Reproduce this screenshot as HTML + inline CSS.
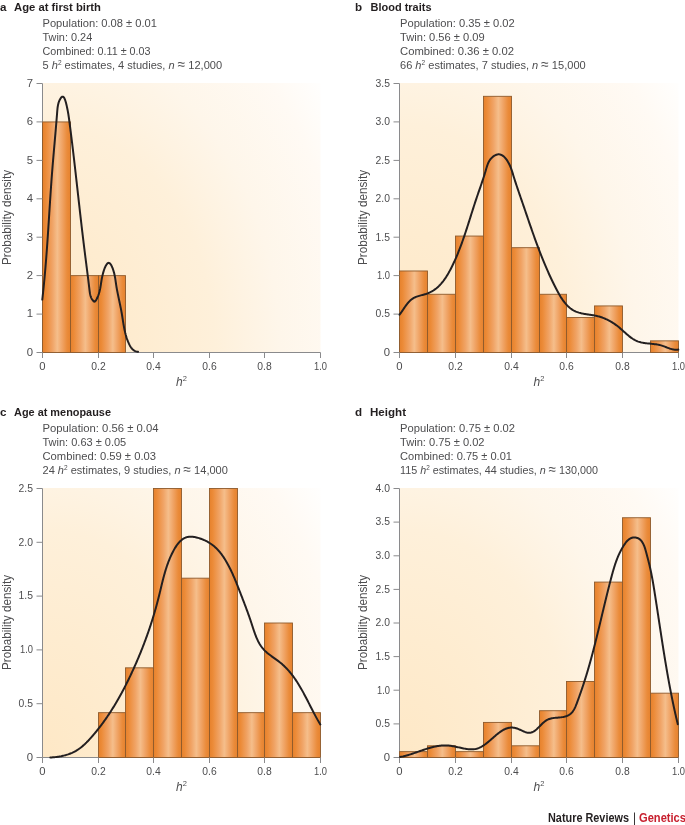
<!DOCTYPE html><html><head><meta charset="utf-8"><style>html,body{margin:0;padding:0;background:#fff;}svg{display:block;will-change:transform;}text{font-family:"Liberation Sans", sans-serif;}</style></head><body>
<svg width="685" height="825" viewBox="0 0 685 825">
<defs>
<linearGradient id="bar" x1="0" y1="0" x2="1" y2="0"><stop offset="0" stop-color="#e6812c"/><stop offset="0.12" stop-color="#ec8b38"/><stop offset="0.35" stop-color="#f0a365"/><stop offset="0.53" stop-color="#f5be8b"/><stop offset="0.70" stop-color="#f0a466"/><stop offset="0.88" stop-color="#ea8b3a"/><stop offset="1" stop-color="#e6822e"/></linearGradient>
<radialGradient id="bg" cx="0" cy="1" r="1" gradientUnits="objectBoundingBox" gradientTransform="translate(0,1) scale(1.265,1.725) translate(0,-1)"><stop offset="0.000" stop-color="#fee8c6"/><stop offset="0.260" stop-color="#feecd0"/><stop offset="0.490" stop-color="#fef0da"/><stop offset="0.580" stop-color="#fef3e2"/><stop offset="0.675" stop-color="#fef6ea"/><stop offset="0.870" stop-color="#fffaf4"/><stop offset="1.000" stop-color="#ffffff"/></radialGradient>
</defs>
<rect x="43.00" y="83.00" width="277.50" height="269.50" fill="url(#bg)"/>
<path d="M42.5,83.5 V352.5 H320.5" fill="none" stroke="#8a8a8c" stroke-width="1"/>
<rect x="42.50" y="121.93" width="28.00" height="230.57" fill="url(#bar)" stroke="#8e5a2c" stroke-width="0.9"/>
<rect x="70.50" y="275.64" width="28.00" height="76.86" fill="url(#bar)" stroke="#8e5a2c" stroke-width="0.9"/>
<rect x="98.50" y="275.64" width="27.00" height="76.86" fill="url(#bar)" stroke="#8e5a2c" stroke-width="0.9"/>
<path d="M36.5,352.5 H42.5" stroke="#8a8a8c" stroke-width="1"/>
<text x="33.0" y="355.8" font-size="11.3" fill="#4d4d4f" text-anchor="end">0</text>
<path d="M36.5,314.1 H42.5" stroke="#8a8a8c" stroke-width="1"/>
<text x="33.0" y="317.4" font-size="11.3" fill="#4d4d4f" text-anchor="end">1</text>
<path d="M36.5,275.6 H42.5" stroke="#8a8a8c" stroke-width="1"/>
<text x="33.0" y="278.9" font-size="11.3" fill="#4d4d4f" text-anchor="end">2</text>
<path d="M36.5,237.2 H42.5" stroke="#8a8a8c" stroke-width="1"/>
<text x="33.0" y="240.5" font-size="11.3" fill="#4d4d4f" text-anchor="end">3</text>
<path d="M36.5,198.8 H42.5" stroke="#8a8a8c" stroke-width="1"/>
<text x="33.0" y="202.1" font-size="11.3" fill="#4d4d4f" text-anchor="end">4</text>
<path d="M36.5,160.4 H42.5" stroke="#8a8a8c" stroke-width="1"/>
<text x="33.0" y="163.7" font-size="11.3" fill="#4d4d4f" text-anchor="end">5</text>
<path d="M36.5,121.9 H42.5" stroke="#8a8a8c" stroke-width="1"/>
<text x="33.0" y="125.2" font-size="11.3" fill="#4d4d4f" text-anchor="end">6</text>
<path d="M36.5,83.5 H42.5" stroke="#8a8a8c" stroke-width="1"/>
<text x="33.0" y="86.8" font-size="11.3" fill="#4d4d4f" text-anchor="end">7</text>
<path d="M42.5,352.5 V358.0" stroke="#8a8a8c" stroke-width="1"/>
<text x="42.5" y="370.0" font-size="11.3" fill="#4d4d4f" text-anchor="middle">0</text>
<path d="M98.5,352.5 V358.0" stroke="#8a8a8c" stroke-width="1"/>
<text x="98.5" y="370.0" font-size="11.3" fill="#4d4d4f" text-anchor="middle" textLength="14.4" lengthAdjust="spacingAndGlyphs">0.2</text>
<path d="M153.5,352.5 V358.0" stroke="#8a8a8c" stroke-width="1"/>
<text x="153.5" y="370.0" font-size="11.3" fill="#4d4d4f" text-anchor="middle" textLength="14.4" lengthAdjust="spacingAndGlyphs">0.4</text>
<path d="M209.5,352.5 V358.0" stroke="#8a8a8c" stroke-width="1"/>
<text x="209.5" y="370.0" font-size="11.3" fill="#4d4d4f" text-anchor="middle" textLength="14.4" lengthAdjust="spacingAndGlyphs">0.6</text>
<path d="M264.5,352.5 V358.0" stroke="#8a8a8c" stroke-width="1"/>
<text x="264.5" y="370.0" font-size="11.3" fill="#4d4d4f" text-anchor="middle" textLength="14.4" lengthAdjust="spacingAndGlyphs">0.8</text>
<path d="M320.5,352.5 V358.0" stroke="#8a8a8c" stroke-width="1"/>
<text x="320.5" y="370.0" font-size="11.3" fill="#4d4d4f" text-anchor="middle" textLength="13.0" lengthAdjust="spacingAndGlyphs">1.0</text>
<path d="M42.30,299.60 L42.40,298.67 L42.51,297.75 L42.61,296.82 L42.71,295.89 L42.81,294.97 L42.91,294.04 L43.01,293.11 L43.11,292.19 L43.20,291.26 L43.30,290.34 L43.40,289.41 L43.49,288.49 L43.59,287.56 L43.68,286.64 L43.77,285.71 L43.86,284.79 L43.95,283.86 L44.04,282.94 L44.13,282.02 L44.22,281.09 L44.31,280.17 L44.40,279.24 L44.48,278.32 L44.57,277.40 L44.65,276.47 L44.74,275.55 L44.82,274.62 L44.90,273.70 L44.99,272.78 L45.07,271.85 L45.15,270.93 L45.23,270.01 L45.31,269.08 L45.39,268.16 L45.47,267.24 L45.54,266.31 L45.62,265.39 L45.70,264.46 L45.77,263.54 L45.85,262.62 L45.92,261.69 L46.00,260.77 L46.07,259.84 L46.14,258.92 L46.22,257.99 L46.29,257.07 L46.36,256.15 L46.43,255.22 L46.50,254.30 L46.57,253.37 L46.64,252.44 L46.71,251.52 L46.78,250.59 L46.85,249.67 L46.91,248.74 L46.98,247.81 L47.05,246.89 L47.11,245.96 L47.18,245.03 L47.25,244.11 L47.31,243.18 L47.38,242.25 L47.44,241.33 L47.50,240.40 L47.57,239.47 L47.63,238.54 L47.69,237.61 L47.76,236.69 L47.82,235.76 L47.88,234.83 L47.94,233.90 L48.01,232.97 L48.07,232.04 L48.13,231.11 L48.19,230.19 L48.25,229.26 L48.31,228.33 L48.37,227.40 L48.43,226.47 L48.49,225.54 L48.55,224.61 L48.61,223.68 L48.67,222.75 L48.73,221.82 L48.79,220.89 L48.85,219.96 L48.91,219.03 L48.97,218.10 L49.03,217.18 L49.09,216.25 L49.15,215.32 L49.21,214.39 L49.27,213.46 L49.32,212.53 L49.38,211.60 L49.44,210.67 L49.50,209.74 L49.56,208.81 L49.62,207.88 L49.68,206.95 L49.74,206.02 L49.80,205.09 L49.86,204.16 L49.92,203.23 L49.98,202.31 L50.04,201.38 L50.10,200.45 L50.16,199.52 L50.23,198.59 L50.29,197.66 L50.35,196.73 L50.41,195.81 L50.47,194.88 L50.53,193.95 L50.60,193.02 L50.66,192.09 L50.72,191.17 L50.79,190.24 L50.85,189.31 L50.91,188.38 L50.98,187.46 L51.04,186.53 L51.11,185.60 L51.18,184.68 L51.24,183.75 L51.31,182.83 L51.37,181.90 L51.44,180.97 L51.51,180.05 L51.58,179.12 L51.65,178.20 L51.72,177.27 L51.79,176.35 L51.86,175.42 L51.93,174.50 L52.00,173.58 L52.07,172.65 L52.14,171.73 L52.21,170.81 L52.29,169.88 L52.36,168.96 L52.44,168.04 L52.51,167.12 L52.59,166.19 L52.66,165.27 L52.74,164.35 L52.82,163.43 L52.89,162.51 L52.97,161.58 L53.05,160.66 L53.12,159.74 L53.20,158.82 L53.28,157.90 L53.36,156.97 L53.44,156.05 L53.52,155.13 L53.60,154.21 L53.68,153.29 L53.76,152.37 L53.84,151.44 L53.92,150.52 L54.00,149.60 L54.08,148.68 L54.16,147.75 L54.24,146.83 L54.32,145.91 L54.40,144.98 L54.49,144.06 L54.57,143.13 L54.65,142.21 L54.73,141.29 L54.81,140.36 L54.89,139.44 L54.97,138.51 L55.05,137.58 L55.13,136.66 L55.21,135.73 L55.30,134.80 L55.38,133.87 L55.46,132.95 L55.54,132.02 L55.62,131.09 L55.70,130.16 L55.78,129.23 L55.86,128.30 L55.93,127.37 L56.01,126.43 L56.09,125.50 L56.17,124.57 L56.25,123.63 L56.33,122.70 L56.40,121.76 L56.48,120.83 L56.56,119.89 L56.63,118.95 L56.71,118.02 L56.78,117.08 L56.86,116.14 L56.93,115.20 L57.01,114.26 L57.08,113.32 L57.15,112.37 L57.23,111.43 L57.30,110.49 L57.39,109.55 L57.48,108.61 L57.59,107.68 L57.72,106.75 L57.87,105.83 L58.04,104.92 L58.24,104.03 L58.47,103.14 L58.74,102.26 L59.04,101.41 L59.39,100.56 L59.79,99.73 L60.23,98.93 L60.70,98.18 L61.21,97.53 L61.71,97.03 L62.22,96.71 L62.70,96.63 L63.15,96.76 L63.59,97.09 L64.00,97.61 L64.39,98.27 L64.76,99.06 L65.11,99.97 L65.44,100.96 L65.76,102.01 L66.05,103.09 L66.33,104.20 L66.59,105.30 L66.83,106.37 L67.06,107.42 L67.28,108.44 L67.48,109.45 L67.67,110.43 L67.85,111.39 L68.02,112.33 L68.18,113.27 L68.34,114.18 L68.48,115.09 L68.62,115.98 L68.75,116.87 L68.88,117.75 L69.00,118.63 L69.12,119.50 L69.23,120.37 L69.35,121.25 L69.47,122.12 L69.58,123.00 L69.70,123.88 L69.81,124.77 L69.93,125.66 L70.04,126.55 L70.16,127.44 L70.27,128.34 L70.39,129.24 L70.50,130.14 L70.62,131.04 L70.73,131.95 L70.85,132.86 L70.96,133.77 L71.07,134.68 L71.19,135.60 L71.30,136.51 L71.42,137.43 L71.53,138.35 L71.64,139.27 L71.76,140.20 L71.87,141.12 L71.98,142.04 L72.10,142.97 L72.21,143.90 L72.32,144.83 L72.43,145.75 L72.54,146.68 L72.66,147.61 L72.77,148.55 L72.88,149.48 L72.99,150.41 L73.10,151.34 L73.21,152.27 L73.32,153.20 L73.43,154.13 L73.54,155.07 L73.65,156.00 L73.76,156.93 L73.87,157.86 L73.98,158.79 L74.08,159.72 L74.19,160.65 L74.30,161.58 L74.41,162.51 L74.51,163.44 L74.62,164.37 L74.73,165.29 L74.83,166.22 L74.94,167.15 L75.05,168.08 L75.15,169.01 L75.26,169.94 L75.37,170.86 L75.47,171.79 L75.58,172.72 L75.68,173.64 L75.79,174.57 L75.89,175.50 L76.00,176.42 L76.10,177.35 L76.21,178.28 L76.31,179.20 L76.41,180.13 L76.52,181.05 L76.62,181.98 L76.73,182.90 L76.83,183.83 L76.93,184.75 L77.04,185.68 L77.14,186.60 L77.25,187.53 L77.35,188.45 L77.45,189.38 L77.56,190.30 L77.66,191.22 L77.76,192.15 L77.87,193.07 L77.97,193.99 L78.07,194.92 L78.18,195.84 L78.28,196.76 L78.38,197.69 L78.49,198.61 L78.59,199.53 L78.69,200.45 L78.80,201.38 L78.90,202.30 L79.01,203.22 L79.11,204.14 L79.21,205.06 L79.32,205.99 L79.42,206.91 L79.53,207.83 L79.63,208.75 L79.73,209.67 L79.84,210.59 L79.94,211.52 L80.05,212.44 L80.15,213.36 L80.26,214.28 L80.36,215.20 L80.47,216.12 L80.57,217.04 L80.68,217.96 L80.78,218.88 L80.89,219.80 L80.99,220.72 L81.10,221.64 L81.21,222.56 L81.31,223.48 L81.42,224.40 L81.53,225.33 L81.63,226.25 L81.74,227.17 L81.85,228.09 L81.96,229.01 L82.06,229.93 L82.17,230.85 L82.28,231.77 L82.39,232.69 L82.50,233.61 L82.61,234.53 L82.72,235.45 L82.83,236.37 L82.94,237.29 L83.05,238.21 L83.16,239.13 L83.27,240.04 L83.38,240.96 L83.49,241.88 L83.60,242.80 L83.72,243.72 L83.83,244.64 L83.94,245.56 L84.05,246.48 L84.17,247.40 L84.28,248.32 L84.40,249.24 L84.51,250.16 L84.63,251.08 L84.74,252.00 L84.86,252.92 L84.97,253.84 L85.09,254.76 L85.21,255.68 L85.32,256.61 L85.44,257.53 L85.56,258.45 L85.68,259.37 L85.79,260.29 L85.91,261.21 L86.03,262.13 L86.15,263.06 L86.27,263.98 L86.38,264.90 L86.50,265.82 L86.62,266.75 L86.74,267.67 L86.86,268.60 L86.97,269.52 L87.09,270.45 L87.21,271.37 L87.33,272.30 L87.44,273.23 L87.56,274.16 L87.68,275.08 L87.79,276.01 L87.91,276.94 L88.03,277.87 L88.14,278.80 L88.26,279.73 L88.37,280.67 L88.49,281.60 L88.60,282.53 L88.71,283.47 L88.83,284.40 L88.94,285.34 L89.05,286.28 L89.16,287.21 L89.28,288.15 L89.39,289.09 L89.50,290.03 L89.61,290.97 L89.73,291.91 L89.87,292.84 L90.03,293.76 L90.22,294.67 L90.44,295.57 L90.71,296.45 L91.03,297.31 L91.40,298.14 L91.83,298.95 L92.33,299.73 L92.91,300.48 L93.56,301.18 L94.24,301.64 L94.90,301.59 L95.49,301.02 L96.02,300.18 L96.52,299.30 L96.97,298.43 L97.40,297.57 L97.78,296.70 L98.14,295.85 L98.46,294.99 L98.76,294.14 L99.03,293.28 L99.28,292.43 L99.51,291.58 L99.72,290.72 L99.91,289.87 L100.09,289.01 L100.26,288.15 L100.41,287.28 L100.56,286.42 L100.70,285.54 L100.84,284.66 L100.98,283.78 L101.11,282.88 L101.25,281.98 L101.40,281.07 L101.55,280.15 L101.71,279.22 L101.88,278.28 L102.07,277.33 L102.27,276.36 L102.49,275.39 L102.73,274.40 L102.99,273.39 L103.28,272.37 L103.59,271.34 L103.93,270.29 L104.29,269.25 L104.68,268.23 L105.09,267.26 L105.51,266.34 L105.96,265.49 L106.41,264.73 L106.87,264.07 L107.35,263.54 L107.83,263.15 L108.31,262.92 L108.79,262.86 L109.28,262.99 L109.76,263.29 L110.23,263.76 L110.69,264.36 L111.15,265.08 L111.58,265.90 L112.00,266.79 L112.40,267.73 L112.77,268.70 L113.12,269.69 L113.44,270.67 L113.73,271.64 L113.99,272.60 L114.24,273.55 L114.46,274.49 L114.66,275.43 L114.85,276.36 L115.02,277.28 L115.18,278.20 L115.33,279.12 L115.47,280.03 L115.60,280.94 L115.73,281.84 L115.86,282.75 L115.99,283.65 L116.13,284.55 L116.26,285.45 L116.41,286.35 L116.56,287.26 L116.71,288.16 L116.87,289.06 L117.04,289.97 L117.21,290.87 L117.39,291.78 L117.56,292.68 L117.75,293.59 L117.93,294.50 L118.12,295.41 L118.31,296.31 L118.50,297.22 L118.69,298.13 L118.88,299.04 L119.08,299.95 L119.27,300.86 L119.47,301.78 L119.66,302.69 L119.85,303.60 L120.05,304.52 L120.24,305.43 L120.42,306.35 L120.61,307.26 L120.79,308.18 L120.97,309.09 L121.15,310.01 L121.32,310.93 L121.49,311.85 L121.65,312.77 L121.81,313.69 L121.96,314.61 L122.12,315.53 L122.26,316.45 L122.41,317.37 L122.56,318.30 L122.70,319.22 L122.84,320.14 L122.99,321.06 L123.14,321.98 L123.29,322.90 L123.44,323.81 L123.59,324.73 L123.75,325.64 L123.92,326.56 L124.08,327.47 L124.26,328.38 L124.44,329.29 L124.63,330.19 L124.83,331.10 L125.04,332.00 L125.25,332.90 L125.48,333.79 L125.71,334.69 L125.96,335.58 L126.22,336.46 L126.49,337.35 L126.78,338.23 L127.08,339.11 L127.40,339.98 L127.73,340.85 L128.07,341.71 L128.44,342.57 L128.82,343.43 L129.22,344.28 L129.64,345.13 L130.08,345.95 L130.56,346.75 L131.07,347.52 L131.63,348.25 L132.22,348.94 L132.86,349.57 L133.56,350.14 L134.32,350.64 L135.13,351.06 L136.02,351.40 L136.97,351.65 L138.00,351.80" fill="none" stroke="#231f20" stroke-width="2" stroke-linejoin="round" stroke-linecap="round"/>
<text x="181.5" y="385.5" font-size="12" fill="#4d4d4f" text-anchor="middle"><tspan font-style="italic">h</tspan><tspan font-size="7.5" dy="-4.5">2</tspan></text>
<text transform="translate(11.2,217.5) rotate(-90)" font-size="13" fill="#4d4d4f" text-anchor="middle" textLength="95" lengthAdjust="spacingAndGlyphs">Probability density</text>
<text x="0.0" y="10.5" font-size="11.6" font-weight="bold" fill="#231f20">a</text>
<text x="14.0" y="10.5" font-size="10.6" font-weight="bold" fill="#231f20" textLength="87.0" lengthAdjust="spacingAndGlyphs">Age at first birth</text>
<text x="42.5" y="27.1" font-size="11.8" fill="#4d4d4f" textLength="114.5" lengthAdjust="spacingAndGlyphs">Population: 0.08 ± 0.01</text>
<text x="42.5" y="41.0" font-size="11.8" fill="#4d4d4f" textLength="49.7" lengthAdjust="spacingAndGlyphs">Twin: 0.24</text>
<text x="42.5" y="54.9" font-size="11.8" fill="#4d4d4f" textLength="108.0" lengthAdjust="spacingAndGlyphs">Combined: 0.11 ± 0.03</text>
<text x="42.5" y="68.8" font-size="11.8" fill="#4d4d4f" textLength="179.6" lengthAdjust="spacingAndGlyphs">5 <tspan font-style="italic">h</tspan><tspan font-size="7" dy="-4">2</tspan><tspan dy="4"> estimates, 4 studies, </tspan><tspan font-style="italic">n</tspan> <tspan font-size="14.5" dy="0.4">≈</tspan><tspan dy="-0.4"> 12,000</tspan></text>
<rect x="400.00" y="83.00" width="278.50" height="269.50" fill="url(#bg)"/>
<path d="M399.5,83.5 V352.5 H678.5" fill="none" stroke="#8a8a8c" stroke-width="1"/>
<rect x="399.50" y="270.98" width="28.00" height="81.52" fill="url(#bar)" stroke="#8e5a2c" stroke-width="0.9"/>
<rect x="427.50" y="294.27" width="28.00" height="58.23" fill="url(#bar)" stroke="#8e5a2c" stroke-width="0.9"/>
<rect x="455.50" y="236.05" width="28.00" height="116.45" fill="url(#bar)" stroke="#8e5a2c" stroke-width="0.9"/>
<rect x="483.50" y="96.31" width="28.00" height="256.19" fill="url(#bar)" stroke="#8e5a2c" stroke-width="0.9"/>
<rect x="511.50" y="247.69" width="28.00" height="104.81" fill="url(#bar)" stroke="#8e5a2c" stroke-width="0.9"/>
<rect x="539.50" y="294.27" width="27.00" height="58.23" fill="url(#bar)" stroke="#8e5a2c" stroke-width="0.9"/>
<rect x="566.50" y="317.56" width="28.00" height="34.94" fill="url(#bar)" stroke="#8e5a2c" stroke-width="0.9"/>
<rect x="594.50" y="305.92" width="28.00" height="46.58" fill="url(#bar)" stroke="#8e5a2c" stroke-width="0.9"/>
<rect x="650.50" y="340.85" width="28.00" height="11.65" fill="url(#bar)" stroke="#8e5a2c" stroke-width="0.9"/>
<path d="M393.5,352.5 H399.5" stroke="#8a8a8c" stroke-width="1"/>
<text x="390.0" y="355.8" font-size="11.3" fill="#4d4d4f" text-anchor="end">0</text>
<path d="M393.5,314.1 H399.5" stroke="#8a8a8c" stroke-width="1"/>
<text x="390.0" y="317.4" font-size="11.3" fill="#4d4d4f" text-anchor="end" textLength="14.4" lengthAdjust="spacingAndGlyphs">0.5</text>
<path d="M393.5,275.6 H399.5" stroke="#8a8a8c" stroke-width="1"/>
<text x="390.0" y="278.9" font-size="11.3" fill="#4d4d4f" text-anchor="end" textLength="13.0" lengthAdjust="spacingAndGlyphs">1.0</text>
<path d="M393.5,237.2 H399.5" stroke="#8a8a8c" stroke-width="1"/>
<text x="390.0" y="240.5" font-size="11.3" fill="#4d4d4f" text-anchor="end" textLength="14.4" lengthAdjust="spacingAndGlyphs">1.5</text>
<path d="M393.5,198.8 H399.5" stroke="#8a8a8c" stroke-width="1"/>
<text x="390.0" y="202.1" font-size="11.3" fill="#4d4d4f" text-anchor="end" textLength="14.4" lengthAdjust="spacingAndGlyphs">2.0</text>
<path d="M393.5,160.4 H399.5" stroke="#8a8a8c" stroke-width="1"/>
<text x="390.0" y="163.7" font-size="11.3" fill="#4d4d4f" text-anchor="end" textLength="14.4" lengthAdjust="spacingAndGlyphs">2.5</text>
<path d="M393.5,121.9 H399.5" stroke="#8a8a8c" stroke-width="1"/>
<text x="390.0" y="125.2" font-size="11.3" fill="#4d4d4f" text-anchor="end" textLength="14.4" lengthAdjust="spacingAndGlyphs">3.0</text>
<path d="M393.5,83.5 H399.5" stroke="#8a8a8c" stroke-width="1"/>
<text x="390.0" y="86.8" font-size="11.3" fill="#4d4d4f" text-anchor="end" textLength="14.4" lengthAdjust="spacingAndGlyphs">3.5</text>
<path d="M399.5,352.5 V358.0" stroke="#8a8a8c" stroke-width="1"/>
<text x="399.5" y="370.0" font-size="11.3" fill="#4d4d4f" text-anchor="middle">0</text>
<path d="M455.5,352.5 V358.0" stroke="#8a8a8c" stroke-width="1"/>
<text x="455.5" y="370.0" font-size="11.3" fill="#4d4d4f" text-anchor="middle" textLength="14.4" lengthAdjust="spacingAndGlyphs">0.2</text>
<path d="M511.5,352.5 V358.0" stroke="#8a8a8c" stroke-width="1"/>
<text x="511.5" y="370.0" font-size="11.3" fill="#4d4d4f" text-anchor="middle" textLength="14.4" lengthAdjust="spacingAndGlyphs">0.4</text>
<path d="M566.5,352.5 V358.0" stroke="#8a8a8c" stroke-width="1"/>
<text x="566.5" y="370.0" font-size="11.3" fill="#4d4d4f" text-anchor="middle" textLength="14.4" lengthAdjust="spacingAndGlyphs">0.6</text>
<path d="M622.5,352.5 V358.0" stroke="#8a8a8c" stroke-width="1"/>
<text x="622.5" y="370.0" font-size="11.3" fill="#4d4d4f" text-anchor="middle" textLength="14.4" lengthAdjust="spacingAndGlyphs">0.8</text>
<path d="M678.5,352.5 V358.0" stroke="#8a8a8c" stroke-width="1"/>
<text x="678.5" y="370.0" font-size="11.3" fill="#4d4d4f" text-anchor="middle" textLength="13.0" lengthAdjust="spacingAndGlyphs">1.0</text>
<path d="M399.60,314.60 L400.08,313.97 L400.56,313.33 L401.03,312.67 L401.50,312.00 L401.96,311.33 L402.42,310.65 L402.88,309.96 L403.34,309.28 L403.80,308.59 L404.26,307.90 L404.73,307.21 L405.21,306.53 L405.69,305.85 L406.17,305.18 L406.67,304.53 L407.18,303.88 L407.70,303.24 L408.23,302.62 L408.77,302.02 L409.33,301.43 L409.91,300.86 L410.50,300.32 L411.11,299.80 L411.74,299.30 L412.39,298.83 L413.07,298.39 L413.77,297.98 L414.49,297.60 L415.23,297.25 L416.00,296.93 L416.78,296.63 L417.58,296.35 L418.39,296.09 L419.21,295.84 L420.04,295.60 L420.88,295.37 L421.71,295.14 L422.55,294.92 L423.39,294.69 L424.22,294.46 L425.04,294.22 L425.86,293.97 L426.66,293.70 L427.45,293.41 L428.22,293.11 L428.98,292.79 L429.73,292.45 L430.46,292.10 L431.18,291.73 L431.88,291.34 L432.57,290.93 L433.25,290.52 L433.92,290.08 L434.57,289.63 L435.21,289.17 L435.84,288.69 L436.46,288.20 L437.06,287.70 L437.66,287.18 L438.24,286.65 L438.82,286.11 L439.38,285.55 L439.93,284.99 L440.47,284.41 L441.01,283.82 L441.53,283.22 L442.04,282.62 L442.55,282.00 L443.04,281.37 L443.53,280.74 L444.01,280.09 L444.48,279.44 L444.94,278.78 L445.40,278.11 L445.85,277.44 L446.29,276.76 L446.72,276.07 L447.15,275.38 L447.57,274.68 L447.99,273.97 L448.40,273.27 L448.80,272.55 L449.20,271.83 L449.59,271.11 L449.98,270.39 L450.37,269.66 L450.74,268.93 L451.12,268.20 L451.49,267.46 L451.86,266.73 L452.22,265.99 L452.58,265.25 L452.94,264.51 L453.29,263.77 L453.64,263.03 L453.99,262.28 L454.33,261.54 L454.67,260.79 L455.01,260.04 L455.34,259.29 L455.67,258.54 L456.00,257.79 L456.33,257.04 L456.65,256.29 L456.97,255.53 L457.28,254.77 L457.60,254.02 L457.91,253.26 L458.22,252.50 L458.52,251.74 L458.82,250.98 L459.12,250.22 L459.42,249.45 L459.72,248.69 L460.01,247.93 L460.30,247.16 L460.59,246.40 L460.88,245.63 L461.16,244.86 L461.45,244.09 L461.73,243.32 L462.01,242.55 L462.28,241.78 L462.56,241.01 L462.83,240.24 L463.10,239.47 L463.37,238.69 L463.64,237.92 L463.91,237.15 L464.18,236.37 L464.44,235.60 L464.70,234.82 L464.96,234.05 L465.22,233.27 L465.48,232.49 L465.74,231.72 L466.00,230.94 L466.25,230.16 L466.51,229.38 L466.76,228.61 L467.01,227.83 L467.26,227.05 L467.52,226.27 L467.77,225.49 L468.02,224.71 L468.26,223.93 L468.51,223.15 L468.76,222.37 L469.01,221.59 L469.26,220.82 L469.50,220.04 L469.75,219.26 L469.99,218.48 L470.24,217.70 L470.49,216.92 L470.73,216.14 L470.98,215.36 L471.22,214.58 L471.47,213.80 L471.71,213.02 L471.96,212.25 L472.21,211.47 L472.45,210.69 L472.70,209.91 L472.95,209.14 L473.19,208.36 L473.44,207.58 L473.69,206.81 L473.94,206.03 L474.19,205.26 L474.44,204.48 L474.69,203.71 L474.95,202.94 L475.20,202.16 L475.45,201.39 L475.71,200.62 L475.96,199.85 L476.22,199.08 L476.48,198.31 L476.74,197.54 L477.00,196.77 L477.26,196.00 L477.53,195.23 L477.79,194.47 L478.05,193.70 L478.32,192.93 L478.58,192.17 L478.85,191.40 L479.12,190.63 L479.38,189.87 L479.65,189.10 L479.92,188.33 L480.18,187.56 L480.45,186.80 L480.71,186.03 L480.98,185.26 L481.24,184.49 L481.51,183.72 L481.77,182.94 L482.03,182.17 L482.29,181.40 L482.55,180.62 L482.81,179.84 L483.07,179.07 L483.33,178.29 L483.58,177.50 L483.83,176.72 L484.08,175.94 L484.33,175.15 L484.58,174.36 L484.82,173.57 L485.06,172.78 L485.30,171.98 L485.54,171.18 L485.77,170.38 L486.00,169.58 L486.23,168.78 L486.47,167.97 L486.71,167.17 L486.96,166.37 L487.22,165.58 L487.50,164.80 L487.79,164.02 L488.11,163.26 L488.46,162.50 L488.83,161.76 L489.23,161.04 L489.67,160.33 L490.15,159.65 L490.67,158.98 L491.22,158.34 L491.81,157.73 L492.43,157.15 L493.07,156.61 L493.74,156.12 L494.43,155.68 L495.12,155.29 L495.83,154.96 L496.54,154.69 L497.26,154.49 L497.97,154.37 L498.67,154.33 L499.36,154.37 L500.04,154.48 L500.71,154.67 L501.37,154.93 L502.01,155.26 L502.64,155.65 L503.25,156.09 L503.85,156.58 L504.43,157.13 L505.00,157.71 L505.55,158.34 L506.08,159.00 L506.59,159.69 L507.09,160.41 L507.57,161.14 L508.02,161.90 L508.46,162.66 L508.88,163.44 L509.27,164.22 L509.65,164.99 L510.00,165.77 L510.33,166.54 L510.65,167.30 L510.95,168.07 L511.23,168.83 L511.50,169.60 L511.76,170.36 L512.01,171.12 L512.26,171.88 L512.49,172.64 L512.73,173.40 L512.96,174.16 L513.19,174.92 L513.42,175.69 L513.65,176.45 L513.89,177.22 L514.13,177.99 L514.37,178.76 L514.61,179.53 L514.86,180.30 L515.11,181.07 L515.36,181.85 L515.61,182.63 L515.86,183.40 L516.12,184.18 L516.38,184.96 L516.64,185.74 L516.90,186.52 L517.16,187.31 L517.43,188.09 L517.69,188.87 L517.96,189.66 L518.22,190.44 L518.49,191.22 L518.76,192.01 L519.03,192.79 L519.30,193.58 L519.57,194.37 L519.84,195.15 L520.11,195.94 L520.38,196.72 L520.65,197.51 L520.93,198.29 L521.20,199.08 L521.47,199.86 L521.74,200.64 L522.01,201.43 L522.28,202.21 L522.55,202.99 L522.82,203.77 L523.08,204.55 L523.35,205.33 L523.62,206.11 L523.89,206.89 L524.15,207.66 L524.42,208.44 L524.68,209.22 L524.95,209.99 L525.21,210.77 L525.48,211.54 L525.74,212.31 L526.00,213.09 L526.27,213.86 L526.53,214.63 L526.79,215.40 L527.06,216.17 L527.32,216.94 L527.58,217.71 L527.85,218.48 L528.11,219.25 L528.37,220.02 L528.63,220.78 L528.90,221.55 L529.16,222.32 L529.42,223.08 L529.69,223.85 L529.95,224.61 L530.21,225.38 L530.48,226.14 L530.74,226.90 L531.01,227.67 L531.27,228.43 L531.54,229.19 L531.80,229.95 L532.07,230.71 L532.34,231.47 L532.60,232.23 L532.87,232.99 L533.14,233.75 L533.41,234.51 L533.68,235.27 L533.95,236.03 L534.22,236.79 L534.49,237.55 L534.76,238.30 L535.03,239.06 L535.31,239.82 L535.58,240.58 L535.86,241.33 L536.13,242.09 L536.41,242.84 L536.69,243.60 L536.97,244.35 L537.25,245.11 L537.53,245.86 L537.81,246.62 L538.09,247.37 L538.38,248.13 L538.66,248.88 L538.95,249.64 L539.24,250.39 L539.53,251.14 L539.82,251.90 L540.11,252.65 L540.40,253.40 L540.70,254.16 L540.99,254.91 L541.29,255.66 L541.59,256.42 L541.89,257.17 L542.19,257.92 L542.49,258.67 L542.79,259.43 L543.10,260.18 L543.41,260.93 L543.72,261.68 L544.03,262.44 L544.34,263.19 L544.65,263.94 L544.97,264.69 L545.29,265.45 L545.61,266.20 L545.93,266.95 L546.25,267.70 L546.58,268.46 L546.90,269.21 L547.23,269.96 L547.57,270.71 L547.90,271.47 L548.23,272.22 L548.57,272.97 L548.91,273.73 L549.25,274.48 L549.59,275.23 L549.94,275.99 L550.29,276.74 L550.64,277.49 L550.99,278.25 L551.35,279.00 L551.70,279.76 L552.06,280.51 L552.43,281.27 L552.79,282.02 L553.16,282.78 L553.53,283.53 L553.90,284.29 L554.27,285.04 L554.65,285.80 L555.03,286.56 L555.41,287.31 L555.80,288.07 L556.18,288.83 L556.58,289.58 L556.97,290.33 L557.37,291.08 L557.77,291.83 L558.18,292.58 L558.59,293.32 L559.01,294.06 L559.43,294.79 L559.86,295.51 L560.29,296.23 L560.73,296.95 L561.18,297.65 L561.63,298.35 L562.09,299.04 L562.56,299.72 L563.03,300.39 L563.52,301.05 L564.01,301.70 L564.51,302.34 L565.01,302.97 L565.53,303.58 L566.05,304.19 L566.59,304.77 L567.13,305.35 L567.69,305.91 L568.25,306.45 L568.83,306.98 L569.41,307.49 L570.01,307.99 L570.62,308.47 L571.24,308.93 L571.87,309.37 L572.51,309.79 L573.17,310.20 L573.84,310.58 L574.52,310.94 L575.21,311.28 L575.92,311.60 L576.65,311.89 L577.38,312.17 L578.13,312.42 L578.89,312.66 L579.66,312.88 L580.44,313.08 L581.23,313.27 L582.03,313.44 L582.83,313.61 L583.64,313.76 L584.46,313.90 L585.28,314.04 L586.11,314.17 L586.93,314.30 L587.76,314.42 L588.60,314.54 L589.43,314.66 L590.26,314.78 L591.09,314.91 L591.92,315.04 L592.74,315.17 L593.56,315.31 L594.38,315.46 L595.19,315.62 L596.00,315.79 L596.79,315.97 L597.59,316.16 L598.37,316.37 L599.15,316.58 L599.92,316.81 L600.68,317.05 L601.44,317.30 L602.20,317.56 L602.94,317.83 L603.68,318.12 L604.42,318.41 L605.15,318.72 L605.87,319.04 L606.59,319.36 L607.30,319.70 L608.01,320.05 L608.71,320.41 L609.41,320.79 L610.10,321.17 L610.79,321.56 L611.47,321.96 L612.15,322.38 L612.82,322.80 L613.49,323.24 L614.15,323.68 L614.81,324.13 L615.47,324.60 L616.12,325.07 L616.77,325.56 L617.41,326.05 L618.05,326.56 L618.69,327.07 L619.32,327.60 L619.95,328.13 L620.57,328.67 L621.20,329.22 L621.82,329.77 L622.44,330.33 L623.06,330.89 L623.68,331.45 L624.30,332.01 L624.93,332.57 L625.55,333.12 L626.17,333.68 L626.80,334.23 L627.43,334.77 L628.07,335.30 L628.70,335.83 L629.35,336.35 L629.99,336.85 L630.64,337.34 L631.30,337.82 L631.97,338.29 L632.64,338.74 L633.32,339.17 L634.01,339.58 L634.70,339.97 L635.41,340.34 L636.12,340.69 L636.85,341.02 L637.58,341.32 L638.33,341.60 L639.08,341.85 L639.85,342.07 L640.63,342.28 L641.41,342.47 L642.20,342.64 L643.00,342.79 L643.81,342.93 L644.62,343.05 L645.43,343.17 L646.25,343.27 L647.08,343.37 L647.90,343.46 L648.73,343.54 L649.57,343.62 L650.40,343.70 L651.23,343.78 L652.06,343.87 L652.90,343.95 L653.73,344.04 L654.56,344.14 L655.38,344.25 L656.20,344.36 L657.02,344.49 L657.83,344.63 L658.64,344.79 L659.44,344.96 L660.23,345.15 L661.02,345.36 L661.80,345.60 L662.57,345.85 L663.33,346.12 L664.09,346.40 L664.85,346.69 L665.60,346.98 L666.35,347.28 L667.10,347.58 L667.85,347.87 L668.61,348.15 L669.36,348.42 L670.13,348.68 L670.90,348.91 L671.67,349.13 L672.46,349.31 L673.25,349.47 L674.06,349.60 L674.88,349.68 L675.71,349.73 L676.56,349.73 L677.42,349.69 L678.30,349.59" fill="none" stroke="#231f20" stroke-width="2" stroke-linejoin="round" stroke-linecap="round"/>
<text x="539.0" y="385.5" font-size="12" fill="#4d4d4f" text-anchor="middle"><tspan font-style="italic">h</tspan><tspan font-size="7.5" dy="-4.5">2</tspan></text>
<text transform="translate(366.9,217.5) rotate(-90)" font-size="13" fill="#4d4d4f" text-anchor="middle" textLength="95" lengthAdjust="spacingAndGlyphs">Probability density</text>
<text x="355.0" y="10.5" font-size="11.6" font-weight="bold" fill="#231f20">b</text>
<text x="370.5" y="10.5" font-size="10.6" font-weight="bold" fill="#231f20" textLength="61.0" lengthAdjust="spacingAndGlyphs">Blood traits</text>
<text x="400.0" y="27.1" font-size="11.8" fill="#4d4d4f" textLength="114.7" lengthAdjust="spacingAndGlyphs">Population: 0.35 ± 0.02</text>
<text x="400.0" y="41.0" font-size="11.8" fill="#4d4d4f" textLength="84.7" lengthAdjust="spacingAndGlyphs">Twin: 0.56 ± 0.09</text>
<text x="400.0" y="54.9" font-size="11.8" fill="#4d4d4f" textLength="114.0" lengthAdjust="spacingAndGlyphs">Combined: 0.36 ± 0.02</text>
<text x="400.0" y="68.8" font-size="11.8" fill="#4d4d4f" textLength="185.7" lengthAdjust="spacingAndGlyphs">66 <tspan font-style="italic">h</tspan><tspan font-size="7" dy="-4">2</tspan><tspan dy="4"> estimates, 7 studies, </tspan><tspan font-style="italic">n</tspan> <tspan font-size="14.5" dy="0.4">≈</tspan><tspan dy="-0.4"> 15,000</tspan></text>
<rect x="43.00" y="488.00" width="277.50" height="269.50" fill="url(#bg)"/>
<path d="M42.5,488.5 V757.5 H320.5" fill="none" stroke="#8a8a8c" stroke-width="1"/>
<rect x="98.50" y="712.67" width="27.00" height="44.83" fill="url(#bar)" stroke="#8e5a2c" stroke-width="0.9"/>
<rect x="125.50" y="667.83" width="28.00" height="89.67" fill="url(#bar)" stroke="#8e5a2c" stroke-width="0.9"/>
<rect x="153.50" y="488.50" width="28.00" height="269.00" fill="url(#bar)" stroke="#8e5a2c" stroke-width="0.9"/>
<rect x="181.50" y="578.17" width="28.00" height="179.33" fill="url(#bar)" stroke="#8e5a2c" stroke-width="0.9"/>
<rect x="209.50" y="488.50" width="28.00" height="269.00" fill="url(#bar)" stroke="#8e5a2c" stroke-width="0.9"/>
<rect x="237.50" y="712.67" width="27.00" height="44.83" fill="url(#bar)" stroke="#8e5a2c" stroke-width="0.9"/>
<rect x="264.50" y="623.00" width="28.00" height="134.50" fill="url(#bar)" stroke="#8e5a2c" stroke-width="0.9"/>
<rect x="292.50" y="712.67" width="28.00" height="44.83" fill="url(#bar)" stroke="#8e5a2c" stroke-width="0.9"/>
<path d="M36.5,757.5 H42.5" stroke="#8a8a8c" stroke-width="1"/>
<text x="33.0" y="760.8" font-size="11.3" fill="#4d4d4f" text-anchor="end">0</text>
<path d="M36.5,703.7 H42.5" stroke="#8a8a8c" stroke-width="1"/>
<text x="33.0" y="707.0" font-size="11.3" fill="#4d4d4f" text-anchor="end" textLength="14.4" lengthAdjust="spacingAndGlyphs">0.5</text>
<path d="M36.5,649.9 H42.5" stroke="#8a8a8c" stroke-width="1"/>
<text x="33.0" y="653.2" font-size="11.3" fill="#4d4d4f" text-anchor="end" textLength="13.0" lengthAdjust="spacingAndGlyphs">1.0</text>
<path d="M36.5,596.1 H42.5" stroke="#8a8a8c" stroke-width="1"/>
<text x="33.0" y="599.4" font-size="11.3" fill="#4d4d4f" text-anchor="end" textLength="14.4" lengthAdjust="spacingAndGlyphs">1.5</text>
<path d="M36.5,542.3 H42.5" stroke="#8a8a8c" stroke-width="1"/>
<text x="33.0" y="545.6" font-size="11.3" fill="#4d4d4f" text-anchor="end" textLength="14.4" lengthAdjust="spacingAndGlyphs">2.0</text>
<path d="M36.5,488.5 H42.5" stroke="#8a8a8c" stroke-width="1"/>
<text x="33.0" y="491.8" font-size="11.3" fill="#4d4d4f" text-anchor="end" textLength="14.4" lengthAdjust="spacingAndGlyphs">2.5</text>
<path d="M42.5,757.5 V763.0" stroke="#8a8a8c" stroke-width="1"/>
<text x="42.5" y="775.0" font-size="11.3" fill="#4d4d4f" text-anchor="middle">0</text>
<path d="M98.5,757.5 V763.0" stroke="#8a8a8c" stroke-width="1"/>
<text x="98.5" y="775.0" font-size="11.3" fill="#4d4d4f" text-anchor="middle" textLength="14.4" lengthAdjust="spacingAndGlyphs">0.2</text>
<path d="M153.5,757.5 V763.0" stroke="#8a8a8c" stroke-width="1"/>
<text x="153.5" y="775.0" font-size="11.3" fill="#4d4d4f" text-anchor="middle" textLength="14.4" lengthAdjust="spacingAndGlyphs">0.4</text>
<path d="M209.5,757.5 V763.0" stroke="#8a8a8c" stroke-width="1"/>
<text x="209.5" y="775.0" font-size="11.3" fill="#4d4d4f" text-anchor="middle" textLength="14.4" lengthAdjust="spacingAndGlyphs">0.6</text>
<path d="M264.5,757.5 V763.0" stroke="#8a8a8c" stroke-width="1"/>
<text x="264.5" y="775.0" font-size="11.3" fill="#4d4d4f" text-anchor="middle" textLength="14.4" lengthAdjust="spacingAndGlyphs">0.8</text>
<path d="M320.5,757.5 V763.0" stroke="#8a8a8c" stroke-width="1"/>
<text x="320.5" y="775.0" font-size="11.3" fill="#4d4d4f" text-anchor="middle" textLength="13.0" lengthAdjust="spacingAndGlyphs">1.0</text>
<path d="M50.30,757.50 L51.11,757.47 L51.92,757.42 L52.74,757.36 L53.57,757.30 L54.41,757.22 L55.25,757.13 L56.09,757.03 L56.94,756.92 L57.80,756.80 L58.66,756.67 L59.52,756.52 L60.38,756.36 L61.24,756.20 L62.10,756.01 L62.96,755.82 L63.82,755.61 L64.67,755.39 L65.52,755.16 L66.37,754.91 L67.22,754.65 L68.06,754.38 L68.89,754.09 L69.71,753.79 L70.53,753.47 L71.34,753.14 L72.14,752.80 L72.93,752.44 L73.71,752.06 L74.48,751.67 L75.24,751.26 L75.98,750.84 L76.71,750.40 L77.44,749.95 L78.15,749.48 L78.85,749.00 L79.54,748.51 L80.22,748.01 L80.89,747.49 L81.55,746.97 L82.20,746.43 L82.85,745.88 L83.49,745.32 L84.12,744.76 L84.74,744.18 L85.35,743.60 L85.96,743.01 L86.57,742.41 L87.16,741.80 L87.75,741.19 L88.34,740.58 L88.92,739.96 L89.50,739.33 L90.07,738.70 L90.64,738.06 L91.21,737.43 L91.77,736.79 L92.33,736.14 L92.89,735.50 L93.45,734.85 L94.00,734.20 L94.55,733.55 L95.09,732.89 L95.64,732.24 L96.18,731.58 L96.72,730.91 L97.25,730.25 L97.78,729.58 L98.31,728.91 L98.84,728.24 L99.36,727.57 L99.89,726.89 L100.40,726.21 L100.92,725.53 L101.43,724.85 L101.94,724.16 L102.45,723.48 L102.96,722.79 L103.46,722.09 L103.96,721.40 L104.46,720.71 L104.95,720.01 L105.45,719.31 L105.94,718.61 L106.43,717.90 L106.91,717.20 L107.39,716.49 L107.87,715.78 L108.35,715.07 L108.83,714.36 L109.30,713.64 L109.77,712.92 L110.24,712.21 L110.70,711.49 L111.17,710.76 L111.63,710.04 L112.09,709.31 L112.54,708.59 L113.00,707.86 L113.45,707.13 L113.90,706.40 L114.35,705.66 L114.79,704.93 L115.23,704.19 L115.67,703.45 L116.11,702.71 L116.55,701.97 L116.98,701.23 L117.41,700.49 L117.84,699.74 L118.27,699.00 L118.70,698.25 L119.12,697.50 L119.54,696.75 L119.96,696.00 L120.38,695.24 L120.79,694.49 L121.20,693.73 L121.62,692.98 L122.02,692.22 L122.43,691.46 L122.84,690.70 L123.24,689.94 L123.64,689.18 L124.04,688.42 L124.44,687.65 L124.83,686.89 L125.23,686.12 L125.62,685.35 L126.01,684.59 L126.40,683.82 L126.78,683.05 L127.17,682.28 L127.55,681.51 L127.93,680.73 L128.31,679.96 L128.69,679.19 L129.06,678.41 L129.43,677.64 L129.81,676.86 L130.18,676.09 L130.55,675.31 L130.91,674.53 L131.28,673.75 L131.64,672.97 L132.00,672.19 L132.36,671.41 L132.72,670.63 L133.08,669.85 L133.44,669.07 L133.79,668.29 L134.14,667.51 L134.49,666.73 L134.84,665.94 L135.19,665.16 L135.54,664.37 L135.88,663.59 L136.23,662.80 L136.57,662.02 L136.91,661.23 L137.25,660.45 L137.58,659.66 L137.92,658.87 L138.25,658.08 L138.58,657.29 L138.91,656.51 L139.24,655.72 L139.57,654.93 L139.90,654.14 L140.22,653.34 L140.54,652.55 L140.86,651.76 L141.18,650.97 L141.50,650.17 L141.82,649.38 L142.13,648.59 L142.44,647.79 L142.75,647.00 L143.06,646.20 L143.37,645.40 L143.68,644.61 L143.98,643.81 L144.29,643.01 L144.59,642.21 L144.89,641.41 L145.19,640.61 L145.48,639.81 L145.78,639.01 L146.07,638.21 L146.36,637.41 L146.65,636.61 L146.94,635.80 L147.23,635.00 L147.52,634.20 L147.80,633.39 L148.08,632.58 L148.36,631.78 L148.64,630.97 L148.92,630.16 L149.19,629.36 L149.47,628.55 L149.74,627.74 L150.01,626.93 L150.28,626.12 L150.55,625.31 L150.81,624.50 L151.08,623.68 L151.34,622.87 L151.60,622.06 L151.86,621.24 L152.11,620.43 L152.37,619.61 L152.62,618.80 L152.88,617.98 L153.13,617.16 L153.38,616.35 L153.62,615.53 L153.87,614.71 L154.11,613.89 L154.36,613.07 L154.60,612.25 L154.84,611.43 L155.07,610.60 L155.31,609.78 L155.54,608.96 L155.78,608.13 L156.01,607.31 L156.24,606.48 L156.46,605.66 L156.69,604.83 L156.91,604.00 L157.13,603.17 L157.35,602.34 L157.57,601.51 L157.79,600.68 L158.01,599.85 L158.22,599.02 L158.43,598.19 L158.64,597.35 L158.85,596.52 L159.06,595.68 L159.26,594.85 L159.47,594.01 L159.67,593.18 L159.87,592.34 L160.08,591.50 L160.28,590.67 L160.48,589.83 L160.68,588.99 L160.88,588.15 L161.08,587.31 L161.28,586.48 L161.48,585.64 L161.69,584.80 L161.89,583.96 L162.09,583.13 L162.30,582.29 L162.51,581.45 L162.72,580.62 L162.93,579.78 L163.15,578.95 L163.36,578.11 L163.58,577.28 L163.80,576.45 L164.03,575.61 L164.26,574.78 L164.49,573.95 L164.72,573.13 L164.96,572.30 L165.20,571.47 L165.45,570.65 L165.70,569.83 L165.96,569.00 L166.22,568.18 L166.48,567.36 L166.75,566.55 L167.03,565.73 L167.31,564.92 L167.60,564.11 L167.89,563.30 L168.19,562.49 L168.49,561.68 L168.81,560.88 L169.12,560.08 L169.45,559.28 L169.78,558.48 L170.12,557.68 L170.47,556.89 L170.82,556.10 L171.18,555.31 L171.55,554.53 L171.93,553.75 L172.32,552.97 L172.71,552.19 L173.12,551.42 L173.53,550.65 L173.95,549.88 L174.38,549.12 L174.82,548.36 L175.27,547.61 L175.74,546.87 L176.21,546.14 L176.70,545.43 L177.19,544.73 L177.71,544.05 L178.23,543.38 L178.77,542.74 L179.32,542.12 L179.88,541.52 L180.46,540.95 L181.06,540.41 L181.67,539.90 L182.30,539.42 L182.95,538.97 L183.61,538.56 L184.29,538.19 L184.99,537.85 L185.70,537.56 L186.44,537.31 L187.20,537.10 L187.97,536.94 L188.76,536.83 L189.57,536.75 L190.40,536.72 L191.24,536.73 L192.09,536.77 L192.95,536.85 L193.81,536.96 L194.68,537.10 L195.56,537.26 L196.43,537.46 L197.31,537.67 L198.18,537.91 L199.05,538.16 L199.92,538.44 L200.78,538.73 L201.63,539.04 L202.48,539.36 L203.31,539.70 L204.14,540.06 L204.96,540.44 L205.77,540.83 L206.57,541.23 L207.36,541.65 L208.13,542.09 L208.90,542.54 L209.65,543.00 L210.38,543.47 L211.10,543.96 L211.80,544.46 L212.49,544.98 L213.16,545.50 L213.82,546.04 L214.47,546.59 L215.10,547.15 L215.72,547.72 L216.33,548.30 L216.92,548.89 L217.50,549.49 L218.07,550.11 L218.63,550.73 L219.18,551.36 L219.72,551.99 L220.24,552.64 L220.76,553.30 L221.27,553.96 L221.77,554.63 L222.26,555.31 L222.74,555.99 L223.22,556.69 L223.69,557.38 L224.15,558.09 L224.60,558.80 L225.05,559.52 L225.49,560.24 L225.93,560.96 L226.36,561.69 L226.79,562.43 L227.21,563.17 L227.62,563.92 L228.03,564.67 L228.43,565.42 L228.84,566.18 L229.23,566.94 L229.62,567.71 L230.01,568.48 L230.39,569.25 L230.77,570.02 L231.14,570.80 L231.51,571.58 L231.88,572.37 L232.24,573.15 L232.60,573.94 L232.95,574.74 L233.30,575.53 L233.65,576.33 L234.00,577.12 L234.34,577.92 L234.68,578.72 L235.02,579.52 L235.35,580.33 L235.68,581.13 L236.01,581.94 L236.34,582.74 L236.66,583.55 L236.98,584.36 L237.31,585.16 L237.62,585.97 L237.94,586.78 L238.26,587.58 L238.57,588.39 L238.89,589.19 L239.20,590.00 L239.51,590.80 L239.82,591.60 L240.13,592.41 L240.44,593.21 L240.75,594.00 L241.06,594.80 L241.36,595.60 L241.67,596.39 L241.98,597.18 L242.28,597.97 L242.59,598.77 L242.89,599.56 L243.20,600.34 L243.50,601.13 L243.80,601.92 L244.10,602.71 L244.40,603.50 L244.70,604.29 L245.00,605.07 L245.30,605.86 L245.60,606.65 L245.90,607.44 L246.19,608.23 L246.49,609.02 L246.78,609.81 L247.07,610.60 L247.36,611.40 L247.65,612.19 L247.94,612.99 L248.23,613.79 L248.51,614.59 L248.80,615.39 L249.08,616.19 L249.36,617.00 L249.64,617.81 L249.92,618.62 L250.20,619.43 L250.48,620.25 L250.75,621.06 L251.02,621.89 L251.30,622.71 L251.57,623.54 L251.83,624.37 L252.10,625.20 L252.37,626.03 L252.64,626.87 L252.91,627.70 L253.18,628.54 L253.46,629.37 L253.74,630.21 L254.02,631.04 L254.31,631.87 L254.60,632.69 L254.89,633.52 L255.19,634.34 L255.50,635.15 L255.82,635.96 L256.14,636.77 L256.47,637.57 L256.81,638.36 L257.16,639.15 L257.52,639.92 L257.89,640.70 L258.28,641.46 L258.67,642.21 L259.08,642.95 L259.49,643.69 L259.93,644.41 L260.37,645.12 L260.83,645.82 L261.31,646.51 L261.80,647.18 L262.31,647.84 L262.84,648.49 L263.38,649.13 L263.94,649.74 L264.52,650.35 L265.11,650.94 L265.72,651.52 L266.35,652.09 L266.98,652.64 L267.63,653.19 L268.29,653.73 L268.96,654.26 L269.64,654.79 L270.32,655.31 L271.01,655.82 L271.71,656.33 L272.41,656.83 L273.11,657.34 L273.82,657.84 L274.52,658.34 L275.23,658.85 L275.93,659.35 L276.64,659.86 L277.34,660.37 L278.03,660.89 L278.72,661.41 L279.40,661.93 L280.08,662.46 L280.74,663.01 L281.40,663.55 L282.05,664.11 L282.69,664.67 L283.32,665.25 L283.94,665.82 L284.55,666.41 L285.16,667.00 L285.76,667.60 L286.35,668.21 L286.94,668.82 L287.51,669.44 L288.08,670.07 L288.64,670.70 L289.20,671.34 L289.75,671.98 L290.29,672.63 L290.82,673.29 L291.35,673.95 L291.88,674.62 L292.39,675.29 L292.90,675.97 L293.41,676.65 L293.91,677.34 L294.40,678.03 L294.89,678.72 L295.37,679.42 L295.85,680.13 L296.32,680.84 L296.79,681.55 L297.26,682.27 L297.72,682.99 L298.17,683.71 L298.62,684.44 L299.07,685.17 L299.51,685.91 L299.95,686.65 L300.39,687.39 L300.82,688.13 L301.25,688.88 L301.67,689.62 L302.10,690.38 L302.51,691.13 L302.93,691.88 L303.35,692.64 L303.76,693.40 L304.17,694.16 L304.57,694.93 L304.98,695.69 L305.38,696.46 L305.78,697.22 L306.18,697.99 L306.58,698.76 L306.98,699.53 L307.38,700.30 L307.77,701.07 L308.17,701.84 L308.56,702.61 L308.95,703.39 L309.35,704.16 L309.74,704.93 L310.13,705.70 L310.52,706.47 L310.91,707.24 L311.31,708.01 L311.70,708.78 L312.09,709.55 L312.49,710.31 L312.88,711.08 L313.28,711.84 L313.68,712.61 L314.08,713.37 L314.48,714.13 L314.88,714.88 L315.28,715.64 L315.69,716.39 L316.09,717.14 L316.50,717.89 L316.91,718.64 L317.33,719.38 L317.75,720.12 L318.16,720.86 L318.59,721.59 L319.01,722.32 L319.44,723.05 L319.87,723.77 L320.31,724.49" fill="none" stroke="#231f20" stroke-width="2" stroke-linejoin="round" stroke-linecap="round"/>
<text x="181.5" y="790.5" font-size="12" fill="#4d4d4f" text-anchor="middle"><tspan font-style="italic">h</tspan><tspan font-size="7.5" dy="-4.5">2</tspan></text>
<text transform="translate(11.2,622.5) rotate(-90)" font-size="13" fill="#4d4d4f" text-anchor="middle" textLength="95" lengthAdjust="spacingAndGlyphs">Probability density</text>
<text x="0.0" y="415.5" font-size="11.6" font-weight="bold" fill="#231f20">c</text>
<text x="14.0" y="415.5" font-size="10.6" font-weight="bold" fill="#231f20" textLength="97.0" lengthAdjust="spacingAndGlyphs">Age at menopause</text>
<text x="42.5" y="432.1" font-size="11.8" fill="#4d4d4f" textLength="116.0" lengthAdjust="spacingAndGlyphs">Population: 0.56 ± 0.04</text>
<text x="42.5" y="446.0" font-size="11.8" fill="#4d4d4f" textLength="83.7" lengthAdjust="spacingAndGlyphs">Twin: 0.63 ± 0.05</text>
<text x="42.5" y="459.9" font-size="11.8" fill="#4d4d4f" textLength="113.5" lengthAdjust="spacingAndGlyphs">Combined: 0.59 ± 0.03</text>
<text x="42.5" y="473.8" font-size="11.8" fill="#4d4d4f" textLength="185.4" lengthAdjust="spacingAndGlyphs">24 <tspan font-style="italic">h</tspan><tspan font-size="7" dy="-4">2</tspan><tspan dy="4"> estimates, 9 studies, </tspan><tspan font-style="italic">n</tspan> <tspan font-size="14.5" dy="0.4">≈</tspan><tspan dy="-0.4"> 14,000</tspan></text>
<rect x="400.00" y="488.00" width="278.50" height="269.50" fill="url(#bg)"/>
<path d="M399.5,488.5 V757.5 H678.5" fill="none" stroke="#8a8a8c" stroke-width="1"/>
<rect x="399.50" y="751.65" width="28.00" height="5.85" fill="url(#bar)" stroke="#8e5a2c" stroke-width="0.9"/>
<rect x="427.50" y="745.80" width="28.00" height="11.70" fill="url(#bar)" stroke="#8e5a2c" stroke-width="0.9"/>
<rect x="455.50" y="751.65" width="28.00" height="5.85" fill="url(#bar)" stroke="#8e5a2c" stroke-width="0.9"/>
<rect x="483.50" y="722.41" width="28.00" height="35.09" fill="url(#bar)" stroke="#8e5a2c" stroke-width="0.9"/>
<rect x="511.50" y="745.80" width="28.00" height="11.70" fill="url(#bar)" stroke="#8e5a2c" stroke-width="0.9"/>
<rect x="539.50" y="710.72" width="27.00" height="46.78" fill="url(#bar)" stroke="#8e5a2c" stroke-width="0.9"/>
<rect x="566.50" y="681.48" width="28.00" height="76.02" fill="url(#bar)" stroke="#8e5a2c" stroke-width="0.9"/>
<rect x="594.50" y="582.07" width="28.00" height="175.43" fill="url(#bar)" stroke="#8e5a2c" stroke-width="0.9"/>
<rect x="622.50" y="517.74" width="28.00" height="239.76" fill="url(#bar)" stroke="#8e5a2c" stroke-width="0.9"/>
<rect x="650.50" y="693.17" width="28.00" height="64.33" fill="url(#bar)" stroke="#8e5a2c" stroke-width="0.9"/>
<path d="M393.5,757.5 H399.5" stroke="#8a8a8c" stroke-width="1"/>
<text x="390.0" y="760.8" font-size="11.3" fill="#4d4d4f" text-anchor="end">0</text>
<path d="M393.5,723.9 H399.5" stroke="#8a8a8c" stroke-width="1"/>
<text x="390.0" y="727.2" font-size="11.3" fill="#4d4d4f" text-anchor="end" textLength="14.4" lengthAdjust="spacingAndGlyphs">0.5</text>
<path d="M393.5,690.2 H399.5" stroke="#8a8a8c" stroke-width="1"/>
<text x="390.0" y="693.5" font-size="11.3" fill="#4d4d4f" text-anchor="end" textLength="13.0" lengthAdjust="spacingAndGlyphs">1.0</text>
<path d="M393.5,656.6 H399.5" stroke="#8a8a8c" stroke-width="1"/>
<text x="390.0" y="659.9" font-size="11.3" fill="#4d4d4f" text-anchor="end" textLength="14.4" lengthAdjust="spacingAndGlyphs">1.5</text>
<path d="M393.5,623.0 H399.5" stroke="#8a8a8c" stroke-width="1"/>
<text x="390.0" y="626.3" font-size="11.3" fill="#4d4d4f" text-anchor="end" textLength="14.4" lengthAdjust="spacingAndGlyphs">2.0</text>
<path d="M393.5,589.4 H399.5" stroke="#8a8a8c" stroke-width="1"/>
<text x="390.0" y="592.7" font-size="11.3" fill="#4d4d4f" text-anchor="end" textLength="14.4" lengthAdjust="spacingAndGlyphs">2.5</text>
<path d="M393.5,555.8 H399.5" stroke="#8a8a8c" stroke-width="1"/>
<text x="390.0" y="559.0" font-size="11.3" fill="#4d4d4f" text-anchor="end" textLength="14.4" lengthAdjust="spacingAndGlyphs">3.0</text>
<path d="M393.5,522.1 H399.5" stroke="#8a8a8c" stroke-width="1"/>
<text x="390.0" y="525.4" font-size="11.3" fill="#4d4d4f" text-anchor="end" textLength="14.4" lengthAdjust="spacingAndGlyphs">3.5</text>
<path d="M393.5,488.5 H399.5" stroke="#8a8a8c" stroke-width="1"/>
<text x="390.0" y="491.8" font-size="11.3" fill="#4d4d4f" text-anchor="end" textLength="14.4" lengthAdjust="spacingAndGlyphs">4.0</text>
<path d="M399.5,757.5 V763.0" stroke="#8a8a8c" stroke-width="1"/>
<text x="399.5" y="775.0" font-size="11.3" fill="#4d4d4f" text-anchor="middle">0</text>
<path d="M455.5,757.5 V763.0" stroke="#8a8a8c" stroke-width="1"/>
<text x="455.5" y="775.0" font-size="11.3" fill="#4d4d4f" text-anchor="middle" textLength="14.4" lengthAdjust="spacingAndGlyphs">0.2</text>
<path d="M511.5,757.5 V763.0" stroke="#8a8a8c" stroke-width="1"/>
<text x="511.5" y="775.0" font-size="11.3" fill="#4d4d4f" text-anchor="middle" textLength="14.4" lengthAdjust="spacingAndGlyphs">0.4</text>
<path d="M566.5,757.5 V763.0" stroke="#8a8a8c" stroke-width="1"/>
<text x="566.5" y="775.0" font-size="11.3" fill="#4d4d4f" text-anchor="middle" textLength="14.4" lengthAdjust="spacingAndGlyphs">0.6</text>
<path d="M622.5,757.5 V763.0" stroke="#8a8a8c" stroke-width="1"/>
<text x="622.5" y="775.0" font-size="11.3" fill="#4d4d4f" text-anchor="middle" textLength="14.4" lengthAdjust="spacingAndGlyphs">0.8</text>
<path d="M678.5,757.5 V763.0" stroke="#8a8a8c" stroke-width="1"/>
<text x="678.5" y="775.0" font-size="11.3" fill="#4d4d4f" text-anchor="middle" textLength="13.0" lengthAdjust="spacingAndGlyphs">1.0</text>
<path d="M400.10,757.01 L401.04,756.83 L401.98,756.63 L402.92,756.43 L403.85,756.20 L404.78,755.97 L405.71,755.73 L406.64,755.47 L407.56,755.21 L408.48,754.94 L409.40,754.66 L410.32,754.37 L411.23,754.08 L412.14,753.78 L413.06,753.48 L413.97,753.17 L414.88,752.86 L415.78,752.54 L416.69,752.23 L417.60,751.91 L418.50,751.59 L419.41,751.28 L420.31,750.96 L421.22,750.64 L422.12,750.33 L423.03,750.02 L423.93,749.71 L424.83,749.41 L425.74,749.12 L426.65,748.83 L427.55,748.54 L428.46,748.27 L429.37,748.00 L430.28,747.74 L431.19,747.50 L432.10,747.26 L433.01,747.03 L433.93,746.82 L434.84,746.61 L435.76,746.42 L436.68,746.25 L437.60,746.09 L438.53,745.95 L439.46,745.82 L440.39,745.71 L441.32,745.62 L442.25,745.54 L443.19,745.49 L444.13,745.45 L445.08,745.44 L446.03,745.44 L446.98,745.47 L447.93,745.53 L448.89,745.60 L449.86,745.70 L450.82,745.83 L451.79,745.97 L452.77,746.14 L453.74,746.32 L454.72,746.51 L455.70,746.72 L456.68,746.93 L457.66,747.15 L458.64,747.37 L459.62,747.59 L460.59,747.82 L461.57,748.03 L462.54,748.24 L463.51,748.44 L464.48,748.63 L465.44,748.80 L466.40,748.95 L467.36,749.09 L468.30,749.20 L469.25,749.28 L470.18,749.34 L471.11,749.37 L472.04,749.36 L472.95,749.32 L473.86,749.24 L474.75,749.12 L475.64,748.95 L476.52,748.74 L477.38,748.49 L478.24,748.19 L479.09,747.85 L479.93,747.48 L480.77,747.06 L481.59,746.62 L482.41,746.14 L483.22,745.64 L484.03,745.10 L484.83,744.55 L485.62,743.97 L486.41,743.37 L487.19,742.75 L487.97,742.12 L488.75,741.48 L489.52,740.83 L490.29,740.17 L491.06,739.50 L491.82,738.83 L492.59,738.16 L493.35,737.48 L494.11,736.82 L494.87,736.16 L495.63,735.50 L496.39,734.86 L497.16,734.23 L497.92,733.61 L498.69,733.02 L499.45,732.44 L500.23,731.88 L501.00,731.35 L501.78,730.84 L502.56,730.37 L503.35,729.92 L504.14,729.50 L504.94,729.12 L505.75,728.78 L506.56,728.47 L507.38,728.21 L508.21,727.99 L509.05,727.81 L509.90,727.68 L510.76,727.59 L511.63,727.56 L512.51,727.58 L513.40,727.66 L514.31,727.79 L515.23,727.98 L516.16,728.24 L517.11,728.55 L518.07,728.92 L519.04,729.33 L520.02,729.76 L520.99,730.21 L521.97,730.66 L522.95,731.10 L523.92,731.52 L524.88,731.90 L525.82,732.23 L526.76,732.51 L527.67,732.70 L528.57,732.82 L529.44,732.83 L530.28,732.75 L531.11,732.57 L531.91,732.32 L532.70,731.98 L533.47,731.58 L534.23,731.11 L534.97,730.59 L535.71,730.02 L536.43,729.40 L537.15,728.75 L537.87,728.07 L538.58,727.37 L539.29,726.65 L540.00,725.93 L540.71,725.20 L541.43,724.47 L542.16,723.76 L542.89,723.07 L543.63,722.40 L544.39,721.76 L545.15,721.16 L545.94,720.61 L546.74,720.11 L547.56,719.67 L548.40,719.29 L549.26,718.96 L550.14,718.69 L551.03,718.46 L551.93,718.27 L552.85,718.12 L553.77,717.99 L554.71,717.88 L555.65,717.79 L556.60,717.71 L557.54,717.63 L558.49,717.55 L559.44,717.47 L560.39,717.37 L561.34,717.26 L562.28,717.12 L563.21,716.96 L564.12,716.76 L565.03,716.53 L565.91,716.27 L566.77,715.97 L567.61,715.62 L568.41,715.23 L569.19,714.79 L569.92,714.30 L570.62,713.76 L571.28,713.15 L571.89,712.50 L572.48,711.80 L573.02,711.06 L573.54,710.28 L574.03,709.46 L574.49,708.61 L574.93,707.73 L575.35,706.83 L575.75,705.92 L576.13,704.99 L576.50,704.04 L576.86,703.10 L577.22,702.15 L577.56,701.20 L577.91,700.26 L578.25,699.32 L578.59,698.39 L578.92,697.46 L579.26,696.53 L579.59,695.61 L579.91,694.69 L580.23,693.77 L580.56,692.86 L580.87,691.95 L581.19,691.04 L581.50,690.14 L581.81,689.23 L582.12,688.33 L582.43,687.43 L582.73,686.53 L583.03,685.62 L583.33,684.72 L583.62,683.82 L583.92,682.92 L584.21,682.02 L584.50,681.11 L584.79,680.21 L585.08,679.30 L585.36,678.40 L585.65,677.49 L585.93,676.58 L586.21,675.68 L586.49,674.77 L586.76,673.86 L587.04,672.95 L587.31,672.03 L587.58,671.12 L587.85,670.21 L588.12,669.30 L588.39,668.38 L588.65,667.47 L588.92,666.55 L589.18,665.63 L589.44,664.72 L589.70,663.80 L589.96,662.88 L590.21,661.96 L590.47,661.04 L590.72,660.12 L590.97,659.20 L591.23,658.28 L591.48,657.36 L591.72,656.44 L591.97,655.51 L592.22,654.59 L592.46,653.67 L592.71,652.74 L592.95,651.82 L593.19,650.89 L593.44,649.97 L593.68,649.04 L593.92,648.11 L594.15,647.19 L594.39,646.26 L594.63,645.33 L594.86,644.40 L595.10,643.47 L595.33,642.55 L595.57,641.62 L595.80,640.69 L596.03,639.76 L596.26,638.83 L596.49,637.90 L596.72,636.97 L596.95,636.03 L597.18,635.10 L597.41,634.17 L597.64,633.24 L597.86,632.31 L598.09,631.38 L598.32,630.44 L598.54,629.51 L598.77,628.58 L598.99,627.65 L599.22,626.71 L599.44,625.78 L599.67,624.85 L599.89,623.91 L600.11,622.98 L600.34,622.05 L600.56,621.11 L600.78,620.18 L601.01,619.24 L601.23,618.31 L601.45,617.38 L601.67,616.44 L601.90,615.51 L602.12,614.58 L602.34,613.64 L602.56,612.71 L602.79,611.77 L603.01,610.84 L603.23,609.91 L603.46,608.97 L603.68,608.04 L603.90,607.11 L604.13,606.17 L604.35,605.24 L604.58,604.31 L604.80,603.38 L605.03,602.44 L605.25,601.51 L605.48,600.58 L605.70,599.65 L605.93,598.71 L606.16,597.78 L606.39,596.85 L606.62,595.92 L606.84,594.99 L607.07,594.06 L607.30,593.13 L607.53,592.20 L607.77,591.27 L608.00,590.34 L608.23,589.41 L608.47,588.48 L608.70,587.56 L608.94,586.63 L609.17,585.70 L609.41,584.78 L609.65,583.85 L609.89,582.92 L610.12,582.00 L610.37,581.07 L610.61,580.15 L610.85,579.22 L611.09,578.30 L611.34,577.38 L611.58,576.45 L611.83,575.53 L612.08,574.61 L612.33,573.69 L612.59,572.77 L612.84,571.85 L613.10,570.93 L613.37,570.02 L613.64,569.10 L613.91,568.19 L614.19,567.28 L614.47,566.37 L614.76,565.46 L615.05,564.55 L615.36,563.64 L615.66,562.74 L615.98,561.84 L616.31,560.94 L616.64,560.04 L616.98,559.15 L617.33,558.25 L617.69,557.36 L618.06,556.48 L618.44,555.59 L618.83,554.71 L619.23,553.83 L619.64,552.95 L620.07,552.08 L620.51,551.21 L620.96,550.35 L621.42,549.48 L621.90,548.62 L622.39,547.77 L622.89,546.91 L623.41,546.07 L623.95,545.22 L624.50,544.38 L625.07,543.56 L625.65,542.75 L626.26,541.97 L626.90,541.23 L627.55,540.54 L628.24,539.90 L628.95,539.32 L629.69,538.81 L630.47,538.38 L631.28,538.03 L632.12,537.77 L632.97,537.59 L633.83,537.50 L634.70,537.49 L635.56,537.56 L636.41,537.71 L637.24,537.94 L638.03,538.25 L638.79,538.64 L639.51,539.11 L640.18,539.64 L640.80,540.25 L641.39,540.92 L641.93,541.65 L642.44,542.43 L642.92,543.25 L643.36,544.12 L643.78,545.03 L644.17,545.97 L644.53,546.93 L644.88,547.91 L645.20,548.91 L645.51,549.92 L645.80,550.94 L646.08,551.95 L646.35,552.97 L646.62,553.97 L646.88,554.95 L647.13,555.92 L647.38,556.88 L647.63,557.82 L647.87,558.76 L648.11,559.68 L648.35,560.60 L648.58,561.51 L648.81,562.41 L649.03,563.31 L649.25,564.21 L649.47,565.11 L649.68,566.01 L649.89,566.91 L650.10,567.82 L650.30,568.73 L650.50,569.64 L650.70,570.55 L650.89,571.47 L651.08,572.39 L651.27,573.31 L651.45,574.24 L651.63,575.17 L651.81,576.10 L651.99,577.03 L652.16,577.96 L652.34,578.90 L652.51,579.83 L652.68,580.77 L652.84,581.71 L653.01,582.66 L653.17,583.60 L653.33,584.54 L653.49,585.49 L653.65,586.44 L653.80,587.39 L653.96,588.33 L654.11,589.28 L654.27,590.23 L654.42,591.18 L654.57,592.14 L654.72,593.09 L654.87,594.04 L655.02,594.99 L655.17,595.94 L655.32,596.89 L655.47,597.84 L655.61,598.79 L655.76,599.74 L655.91,600.69 L656.06,601.65 L656.20,602.60 L656.35,603.55 L656.50,604.50 L656.64,605.45 L656.79,606.40 L656.93,607.35 L657.08,608.30 L657.22,609.25 L657.37,610.20 L657.51,611.14 L657.66,612.09 L657.80,613.04 L657.95,613.99 L658.09,614.94 L658.24,615.89 L658.38,616.84 L658.52,617.79 L658.67,618.74 L658.81,619.68 L658.95,620.63 L659.10,621.58 L659.24,622.53 L659.39,623.48 L659.53,624.42 L659.67,625.37 L659.82,626.32 L659.96,627.27 L660.11,628.22 L660.25,629.16 L660.39,630.11 L660.54,631.06 L660.68,632.00 L660.83,632.95 L660.97,633.90 L661.12,634.84 L661.26,635.79 L661.41,636.74 L661.55,637.68 L661.70,638.63 L661.85,639.57 L661.99,640.52 L662.14,641.47 L662.29,642.41 L662.43,643.36 L662.58,644.30 L662.73,645.25 L662.88,646.19 L663.03,647.14 L663.18,648.08 L663.32,649.03 L663.47,649.97 L663.62,650.92 L663.78,651.86 L663.93,652.80 L664.08,653.75 L664.23,654.69 L664.38,655.64 L664.54,656.58 L664.69,657.52 L664.84,658.47 L665.00,659.41 L665.15,660.35 L665.31,661.30 L665.47,662.24 L665.62,663.18 L665.78,664.13 L665.94,665.07 L666.10,666.01 L666.26,666.95 L666.42,667.90 L666.58,668.84 L666.74,669.78 L666.90,670.72 L667.06,671.66 L667.23,672.61 L667.39,673.55 L667.56,674.49 L667.72,675.43 L667.89,676.37 L668.06,677.31 L668.23,678.25 L668.40,679.19 L668.57,680.14 L668.74,681.08 L668.91,682.02 L669.08,682.96 L669.26,683.90 L669.43,684.84 L669.61,685.78 L669.78,686.72 L669.96,687.66 L670.14,688.60 L670.32,689.54 L670.50,690.47 L670.68,691.41 L670.86,692.35 L671.05,693.29 L671.23,694.23 L671.42,695.17 L671.61,696.11 L671.79,697.05 L671.98,697.98 L672.17,698.92 L672.36,699.86 L672.56,700.80 L672.75,701.74 L672.95,702.67 L673.14,703.61 L673.34,704.55 L673.54,705.49 L673.74,706.42 L673.94,707.36 L674.14,708.30 L674.35,709.23 L674.55,710.17 L674.76,711.11 L674.96,712.04 L675.17,712.98 L675.38,713.92 L675.60,714.85 L675.81,715.79 L676.02,716.72 L676.24,717.66 L676.46,718.59 L676.68,719.53 L676.90,720.46 L677.12,721.40 L677.34,722.33 L677.57,723.27 L677.79,724.20" fill="none" stroke="#231f20" stroke-width="2" stroke-linejoin="round" stroke-linecap="round"/>
<text x="539.0" y="790.5" font-size="12" fill="#4d4d4f" text-anchor="middle"><tspan font-style="italic">h</tspan><tspan font-size="7.5" dy="-4.5">2</tspan></text>
<text transform="translate(366.9,622.5) rotate(-90)" font-size="13" fill="#4d4d4f" text-anchor="middle" textLength="95" lengthAdjust="spacingAndGlyphs">Probability density</text>
<text x="355.0" y="415.5" font-size="11.6" font-weight="bold" fill="#231f20">d</text>
<text x="370.0" y="415.5" font-size="10.6" font-weight="bold" fill="#231f20" textLength="36.0" lengthAdjust="spacingAndGlyphs">Height</text>
<text x="400.0" y="432.1" font-size="11.8" fill="#4d4d4f" textLength="115.0" lengthAdjust="spacingAndGlyphs">Population: 0.75 ± 0.02</text>
<text x="400.0" y="446.0" font-size="11.8" fill="#4d4d4f" textLength="84.5" lengthAdjust="spacingAndGlyphs">Twin: 0.75 ± 0.02</text>
<text x="400.0" y="459.9" font-size="11.8" fill="#4d4d4f" textLength="112.0" lengthAdjust="spacingAndGlyphs">Combined: 0.75 ± 0.01</text>
<text x="400.0" y="473.8" font-size="11.8" fill="#4d4d4f" textLength="198.0" lengthAdjust="spacingAndGlyphs">115 <tspan font-style="italic">h</tspan><tspan font-size="7" dy="-4">2</tspan><tspan dy="4"> estimates, 44 studies, </tspan><tspan font-style="italic">n</tspan> <tspan font-size="14.5" dy="0.4">≈</tspan><tspan dy="-0.4"> 130,000</tspan></text>
<text x="548" y="821.9" font-size="11.9" font-weight="bold" fill="#231f20" textLength="81" lengthAdjust="spacingAndGlyphs">Nature Reviews</text>
<path d="M634.5,812.5 V825" stroke="#231f20" stroke-width="0.9"/>
<text x="639" y="821.9" font-size="11.9" font-weight="bold" fill="#c8202f" textLength="47" lengthAdjust="spacingAndGlyphs">Genetics</text>
</svg></body></html>
